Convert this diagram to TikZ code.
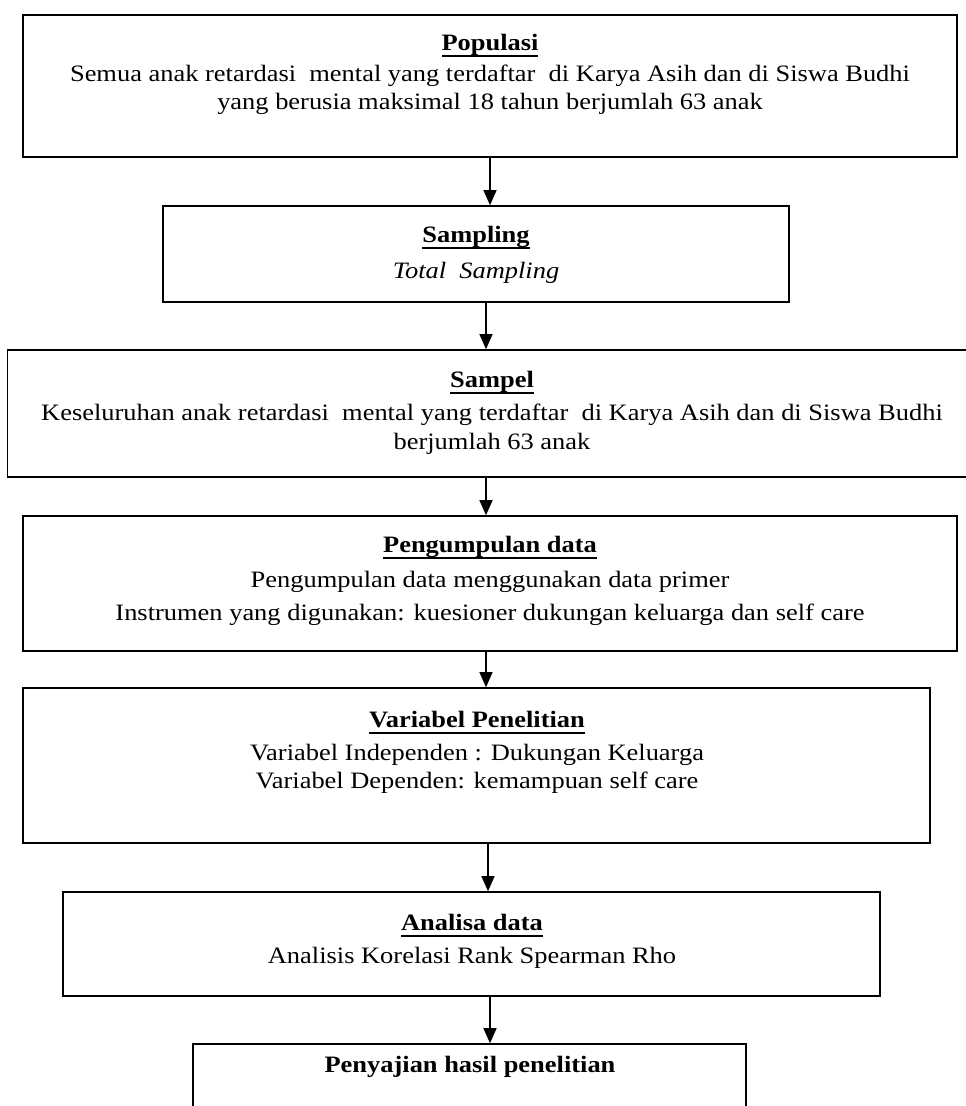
\documentclass[tikz,border=0pt]{standalone}
\usepackage{fontspec}
\setmainfont{Liberation Serif}[FakeStretch=1.125]
\usetikzlibrary{arrows.meta}
\newcommand\ulx[1]{\setbox0\hbox{#1}\rlap{\vrule height -4.6pt depth 6.5pt width \wd0}\box0}
\begin{document}
\begin{tikzpicture}[x=1pt,y=-1pt,
  boxst/.style={draw,line width=1.6pt,inner sep=0pt},
  txt/.style={inner sep=0pt,anchor=base,font=\fontsize{23.5}{28}\selectfont},
  ttl/.style={txt,font=\fontsize{23.5}{28}\selectfont\bfseries},
  arr/.style={line width=1.1pt,-{Triangle[length=15pt,width=13pt]}}]
\useasboundingbox (0,0) rectangle (966,1106);
\clip (0,0) rectangle (966,1106);
% boxes
\node[boxst,minimum width=934pt,minimum height=142pt] (b1) at (490,86) {};
\node[boxst,minimum width=626pt,minimum height=96pt] (b2) at (476,254) {};
\node[boxst,minimum width=969pt,minimum height=127pt] (b3) at (492,413.5) {};
\node[boxst,minimum width=934pt,minimum height=135pt] (b4) at (490,583.5) {};
\node[boxst,minimum width=907pt,minimum height=155pt] (b5) at (476.5,765.5) {};
\node[boxst,minimum width=817pt,minimum height=104pt] (b6) at (471.5,944) {};
\node[boxst,minimum width=553pt,minimum height=100pt] (b7) at (469.5,1094) {};
% texts
\node[ttl] (t1) at (490,50) {\ulx{Populasi}};
\node[txt] (t1a) at (490,81) {Semua anak retardasi\ \ mental yang terdaftar\ \ di Karya Asih dan di Siswa Budhi};
\node[txt] (t1b) at (490,109) {yang berusia maksimal 18 tahun berjumlah 63 anak};
\node[ttl] (t2) at (476,242) {\ulx{Sampling}};
\node[txt] (t2a) at (476,278) {\itshape Total\ \ Sampling};
\node[ttl] (t3) at (492,387) {\ulx{Sampel}};
\node[txt] (t3a) at (492,420) {Keseluruhan anak retardasi\ \ mental yang terdaftar\ \ di Karya Asih dan di Siswa Budhi};
\node[txt] (t3b) at (492,449) {berjumlah 63 anak};
\node[ttl] (t4) at (490,552) {\ulx{Pengumpulan data}};
\node[txt] (t4a) at (490,587) {Pengumpulan data menggunakan data primer};
\node[txt] (t4b) at (490,620) {Instrumen yang digunakan: kuesioner dukungan keluarga dan self care};
\node[ttl] (t5) at (477,727) {\ulx{Variabel Penelitian}};
\node[txt] (t5a) at (477,760) {Variabel Independen : Dukungan Keluarga};
\node[txt] (t5b) at (477,788) {Variabel Dependen: kemampuan self care};
\node[ttl] (t6) at (472,930) {\ulx{Analisa data}};
\node[txt] (t6a) at (472,963) {Analisis Korelasi Rank Spearman Rho};
\node[ttl] (t7) at (470,1072) {Penyajian hasil penelitian};
% arrows
\draw[arr] (b1.south) -- (b1.south |- b2.north);
\draw[arr] ([xshift=10pt]b2.south) -- ([xshift=10pt]b2.south |- b3.north);
\draw[arr] ([xshift=-6pt]b3.south) -- ([xshift=-6pt]b3.south |- b4.north);
\draw[arr] ([xshift=-4pt]b4.south) -- ([xshift=-4pt]b4.south |- b5.north);
\draw[arr] ([xshift=11.5pt]b5.south) -- ([xshift=11.5pt]b5.south |- b6.north);
\draw[arr] ([xshift=18.5pt]b6.south) -- ([xshift=18.5pt]b6.south |- b7.north);
\end{tikzpicture}
\end{document}
